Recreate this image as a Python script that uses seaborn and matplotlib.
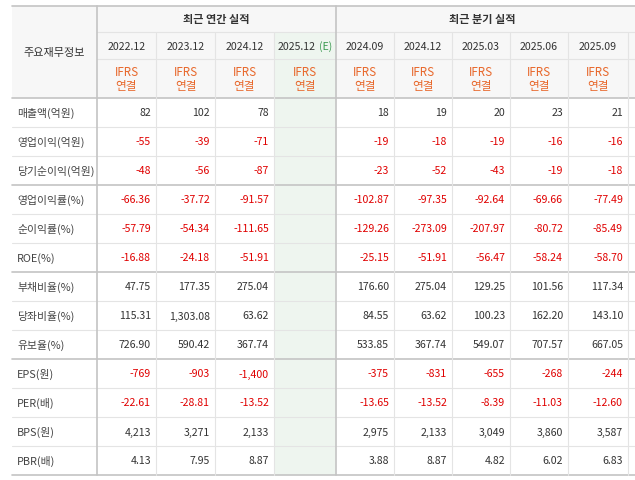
import seaborn as sns
import matplotlib.pyplot as plt
from matplotlib.patches import Rectangle

sns.set_theme(style='white')
plt.rcParams['font.family'] = ['Noto Sans CJK KR', 'DejaVu Sans']

periods_year = ['2022.12', '2023.12', '2024.12', '2025.12']
periods_qtr = ['2024.09', '2024.12', '2025.03', '2025.06', '2025.09']
row_labels = ['매출액(억원)', '영업이익(억원)', '당기순이익(억원)', '영업이익률(%)', '순이익률(%)', 'ROE(%)',
              '부채비율(%)', '당좌비율(%)', '유보율(%)', 'EPS(원)', 'PER(배)', 'BPS(원)', 'PBR(배)']
year_vals = [
    ['82', '102', '78', ''],
    ['-55', '-39', '-71', ''],
    ['-48', '-56', '-87', ''],
    ['-66.36', '-37.72', '-91.57', ''],
    ['-57.79', '-54.34', '-111.65', ''],
    ['-16.88', '-24.18', '-51.91', ''],
    ['47.75', '177.35', '275.04', ''],
    ['115.31', '1,303.08', '63.62', ''],
    ['726.90', '590.42', '367.74', ''],
    ['-769', '-903', '-1,400', ''],
    ['-22.61', '-28.81', '-13.52', ''],
    ['4,213', '3,271', '2,133', ''],
    ['4.13', '7.95', '8.87', ''],
]
qtr_vals = [
    ['18', '19', '20', '23', '21'],
    ['-19', '-18', '-19', '-16', '-16'],
    ['-23', '-52', '-43', '-19', '-18'],
    ['-102.87', '-97.35', '-92.64', '-69.66', '-77.49'],
    ['-129.26', '-273.09', '-207.97', '-80.72', '-85.49'],
    ['-25.15', '-51.91', '-56.47', '-58.24', '-58.70'],
    ['176.60', '275.04', '129.25', '101.56', '117.34'],
    ['84.55', '63.62', '100.23', '162.20', '143.10'],
    ['533.85', '367.74', '549.07', '707.57', '667.05'],
    ['-375', '-831', '-655', '-268', '-244'],
    ['-13.65', '-13.52', '-8.39', '-11.03', '-12.60'],
    ['2,975', '2,133', '3,049', '3,860', '3,587'],
    ['3.88', '8.87', '4.82', '6.02', '6.83'],
]

W, H = 635, 481
fig = plt.figure(figsize=(W / 100, H / 100), dpi=100)
ax = fig.add_axes([0, 0, 1, 1])
ax.set_xlim(0, W)
ax.set_ylim(H, 0)
ax.axis('off')

col_x = [12, 97, 156, 215, 274, 336, 394, 452, 510, 568, 628, 640]
top, r1, r2, r3 = 7, 33, 60, 99
rh = 29
bottom = r3 + rh * len(row_labels)
light = '#e4e4e4'
dark = '#c4c4c4'
txt = '#333333'
red = '#e00000'
orange = '#e8672a'

# backgrounds
ax.add_patch(Rectangle((col_x[0], top), col_x[-1] - col_x[0], r3 - top, color='#f7f7f7', lw=0))
ax.add_patch(Rectangle((col_x[4], r1), col_x[5] - col_x[4], bottom - r1, color='#eef5ef', lw=0))

# horizontal lines
ax.plot([col_x[0], W], [top, top], color=dark, lw=1.2)
ax.plot([col_x[1], W], [r1, r1], color=light, lw=0.8)
ax.plot([col_x[1], W], [r2, r2], color=light, lw=0.8)
ax.plot([col_x[0], W], [r3, r3], color=dark, lw=1.2)
for i in range(1, len(row_labels) + 1):
    y = r3 + rh * i
    thick = i in (3, 6, 9, 13)
    ax.plot([col_x[0], W], [y, y], color=dark if thick else light, lw=1.2 if thick else 0.8)

# vertical lines
for j, x in enumerate(col_x[1:-1], start=1):
    strong = j in (1, 5)
    y0 = top if strong else r1
    ax.plot([x, x], [y0, bottom], color=dark if strong else light, lw=1.2 if strong else 0.8)

# header text
ax.text((col_x[0] + col_x[1]) / 2, (top + r3) / 2, '주요재무정보', ha='center', va='center', fontsize=8, color=txt)
ax.text((col_x[1] + col_x[5]) / 2, (top + r1) / 2, '최근 연간 실적', ha='center', va='center', fontsize=8,
        color=txt, fontweight='bold')
ax.text((col_x[5] + col_x[10]) / 2, (top + r1) / 2, '최근 분기 실적', ha='center', va='center', fontsize=8,
        color=txt, fontweight='bold')
periods = periods_year + periods_qtr
for j, p in enumerate(periods):
    cx = (col_x[j + 1] + col_x[j + 2]) / 2
    if j == 3:
        ax.text(cx - 8, (r1 + r2) / 2, p, ha='center', va='center', fontsize=7.6, color=txt)
        ax.text(cx + 21, (r1 + r2) / 2, '(E)', ha='center', va='center', fontsize=7.6, color='#3a9a50')
    else:
        ax.text(cx, (r1 + r2) / 2, p, ha='center', va='center', fontsize=7.6, color=txt)
    ax.text(cx, (r2 + r3) / 2, 'IFRS\n연결', ha='center', va='center', fontsize=8.4, color=orange,
            linespacing=1.05, fontweight='medium')

# body
for i, lab in enumerate(row_labels):
    cy = r3 + rh * i + rh / 2
    ax.text(col_x[0] + 5, cy, lab, ha='left', va='center', fontsize=7.8, color='#444444')
    vals = year_vals[i] + qtr_vals[i]
    for j, v in enumerate(vals):
        if not v:
            continue
        ax.text(col_x[j + 2] - 5, cy, v, ha='right', va='center', fontsize=7.6,
                color=red if v.startswith('-') else txt)

fig.savefig('out.png', dpi=100)
